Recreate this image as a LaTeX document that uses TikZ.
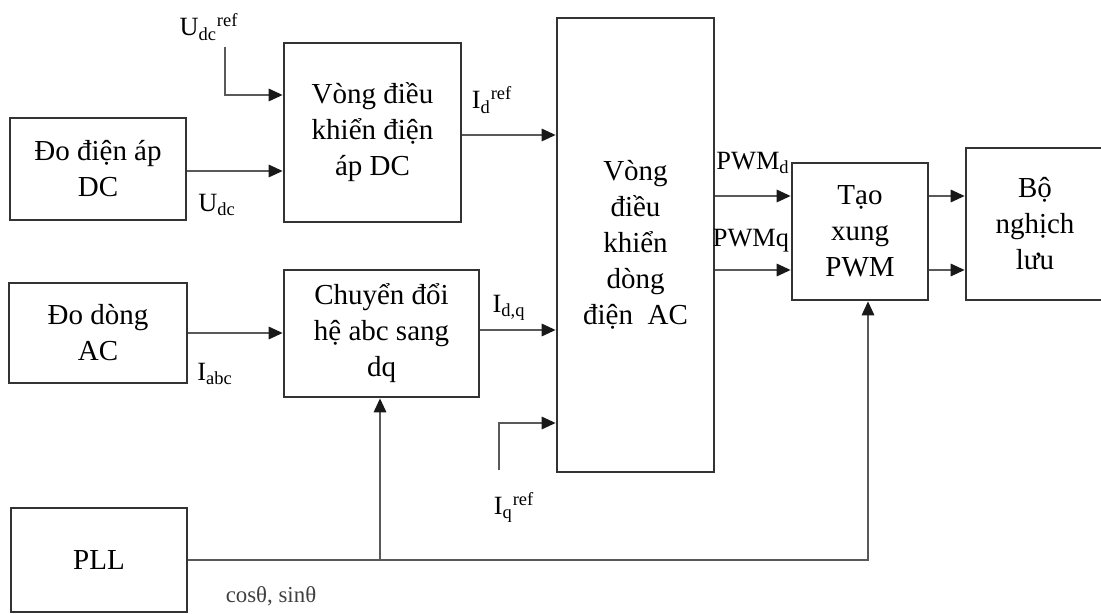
\documentclass[tikz,border=0pt]{standalone}
\usepackage{fontspec}
\setmainfont{Liberation Serif}
\usetikzlibrary{arrows.meta,positioning}
\tikzset{
  ctrlBlock/.style={draw=black!80, line width=1.5pt, fill=white, align=center, font=\fontsize{16.5}{20.5}\selectfont, inner sep=2pt},
  ctrlArrow/.style={->, line width=1.3pt, draw=black!65},
  ctrlLabel/.style={font=\fontsize{15}{17}\selectfont, inner sep=0pt},
  ctrlSmall/.style={font=\fontsize{13}{15}\selectfont, inner sep=0pt, text=black!75}
}

\begin{document}
\begin{tikzpicture}[x=0.02cm, y=-0.02cm, >={Triangle[length=8pt,width=7pt,color=black!90]}]
      \useasboundingbox (0,0) rectangle (1101,614);
      \node[ctrlBlock, minimum width=3.52cm, minimum height=2.04cm] (dcMeas) at (98,169) {Đo điện áp\\DC};
      \node[ctrlBlock, minimum width=3.54cm, minimum height=3.58cm] (dcLoop) at (372.5,132.5) {Vòng điều\\khiển điện\\áp DC};
      \node[ctrlBlock, minimum width=3.56cm, minimum height=2.0cm] (acMeas) at (98,333) {Đo dòng\\AC};
      \node[ctrlBlock, minimum width=3.9cm, minimum height=2.54cm] (abcdq) at (381.5,333.5) {Chuyển đổi\\hệ abc sang\\dq};
      \node[ctrlBlock, minimum width=3.52cm, minimum height=2.08cm] (pll) at (99,560) {PLL};
      \node[ctrlBlock, minimum width=3.14cm, minimum height=9.08cm] (acLoop) at (635.5,245) {Vòng\\điều\\khiển\\dòng\\điện~~AC};
      \node[ctrlBlock, minimum width=2.72cm, minimum height=2.74cm] (pwmGen) at (860,231.5) {Tạo\\xung\\PWM};
      \node[ctrlBlock, minimum width=2.76cm, minimum height=3.04cm] (inverter) at (1035,224) {Bộ\\nghịch\\lưu};
      \coordinate (udcRefStart) at (225,47);
      \coordinate (iqRefStart) at (499,470);
      \coordinate (pllTap) at (380,560);
      \node[ctrlLabel] (udcRef) at (209,27) {U\textsubscript{dc}\textsuperscript{ref}};
      \node[ctrlLabel] (udc) at (217,205) {U\textsubscript{dc}};
      \node[ctrlLabel] (idRef) at (492,100) {I\textsubscript{d}\textsuperscript{ref}};
      \node[ctrlLabel] (iabc) at (215,374) {I\textsubscript{abc}};
      \node[ctrlLabel] (idq) at (509,308) {I\textsubscript{d,q}};
      \node[ctrlLabel] (iqRef) at (514,507) {I\textsubscript{q}\textsuperscript{ref}};
      \node[ctrlLabel] (pwmD) at (753,163) {PWM\textsubscript{d}};
      \node[ctrlLabel] (pwmQ) at (751,241) {PWMq};
      \node[ctrlSmall] (cosSin) at (271,596) {cosθ, sinθ};
      \draw[ctrlArrow] (udcRefStart) |- (dcLoop.west |- 0,95);
      \draw[ctrlArrow] (dcMeas.east |- 0,171) -- (dcLoop.west |- 0,171);
      \draw[ctrlArrow] (dcLoop.east |- 0,135) -- (acLoop.west |- 0,135);
      \draw[ctrlArrow] (acMeas.east |- 0,333) -- (abcdq.west |- 0,333);
      \draw[ctrlArrow] (abcdq.east |- 0,330) -- (acLoop.west |- 0,330);
      \draw[ctrlArrow] (iqRefStart) |- (acLoop.west |- 0,423);
      \draw[ctrlArrow] (acLoop.east |- 0,196) -- (pwmGen.west |- 0,196);
      \draw[ctrlArrow] (acLoop.east |- 0,270) -- (pwmGen.west |- 0,270);
      \draw[ctrlArrow] (pwmGen.east |- 0,196) -- (inverter.west |- 0,196);
      \draw[ctrlArrow] (pwmGen.east |- 0,270) -- (inverter.west |- 0,270);
      \draw[ctrlArrow] (pll.east) -| (pwmGen.south -| 868,0);
      \draw[ctrlArrow] (pllTap) -- (abcdq.south -| pllTap);
    \end{tikzpicture}
\end{document}
